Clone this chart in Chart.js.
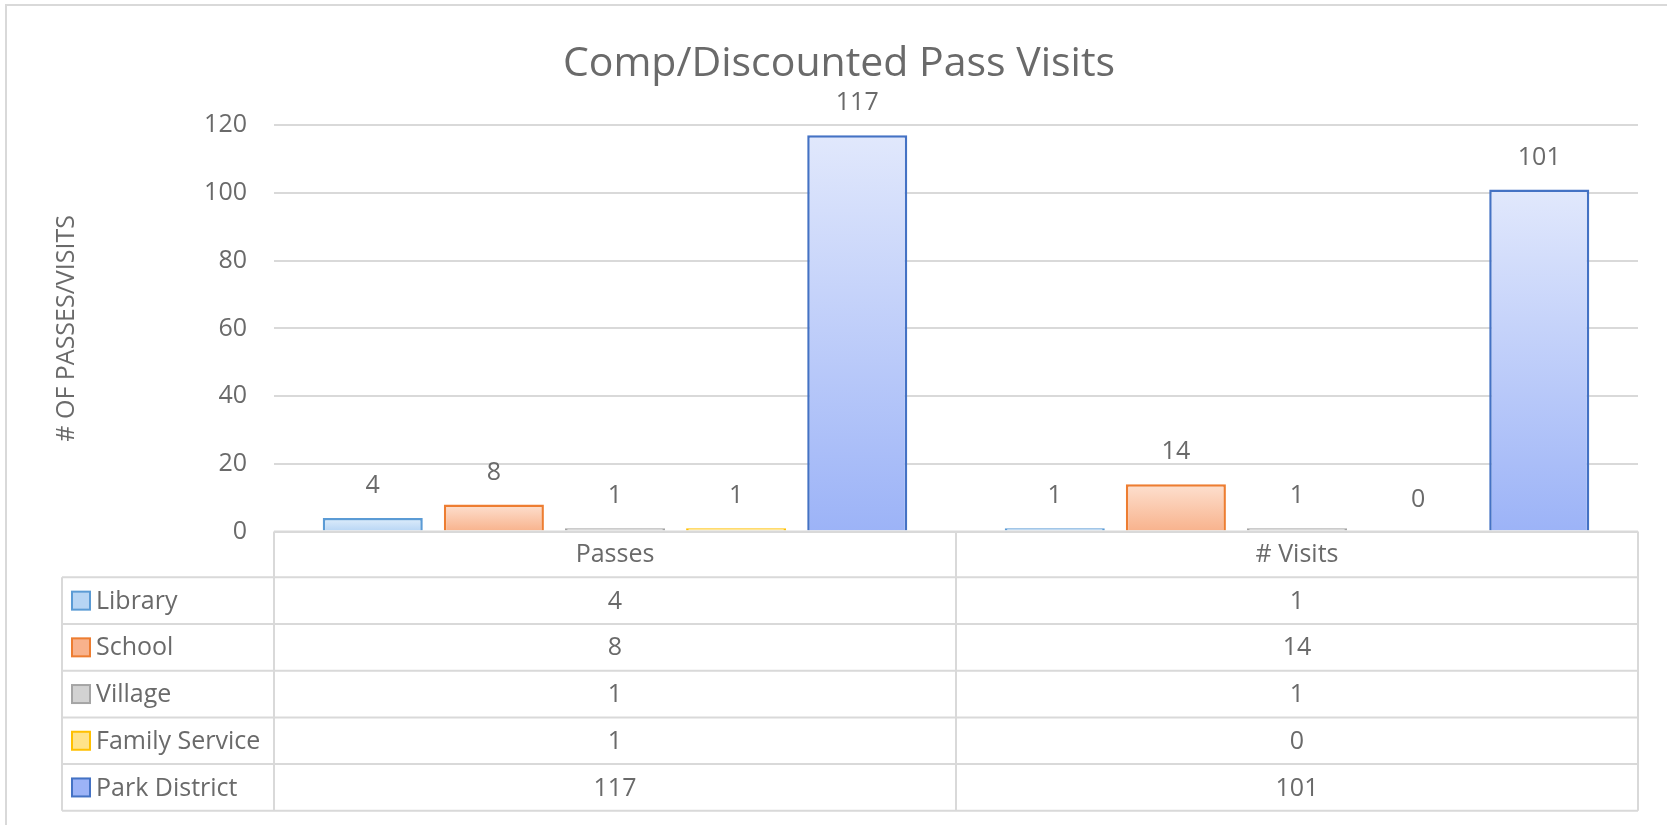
<!DOCTYPE html>
<html>
<head>
<meta charset="utf-8">
<title>Comp/Discounted Pass Visits</title>
<script src="https://cdn.jsdelivr.net/npm/chart.js@4.4.1/dist/chart.umd.min.js"></script>
<style>
    html, body { margin: 0; padding: 0; background: #ffffff; }
    #wrap { width: 1667px; height: 825px; }
</style>
</head>
<body>
<div id="wrap"><canvas id="graficoPasses" width="1667" height="825"></canvas></div>
<script>
// dados do grafico
var categories = ['Passes', '# Visits'];
var seriesNames = ['Library', 'School', 'Village', 'Family Service', 'Park District'];
var library = [4, 1];
var school = [8, 14];
var village = [1, 1];
var familyService = [1, 0];
var parkDistrict = [117, 101];
var yMax = 120;
var yStep = 20;

var TEXT = '#6a6a6a';
var LINE = '#d9d9d9';
var FONT = "'Open Sans', 'Noto Sans', sans-serif";

// estilo de cada serie: borda, topo e base do degrade
var estilos = [
    { border: '#5b9bd5', top: '#deedfb', bottom: '#b7d5f4' },
    { border: '#ed7d31', top: '#fde0cf', bottom: '#f8b28c' },
    { border: '#a5a5a5', top: '#e4e4e4', bottom: '#d2d2d2' },
    { border: '#ffc000', top: '#fff0b8', bottom: '#ffe38a' },
    { border: '#4472c4', top: '#e1e8fc', bottom: '#9cb3f7' }
];

function degrade(estilo) {
    return function (context) {
        var chart = context.chart;
        if (!chart.chartArea || context.type !== 'data') {
            return estilo.bottom;
        }
        var y = chart.scales.y;
        var yTopo = y.getPixelForValue(context.raw);
        var yBase = y.getPixelForValue(0);
        if (yBase - yTopo < 2) {
            return estilo.bottom;
        }
        var g = chart.ctx.createLinearGradient(0, yTopo, 0, yBase);
        g.addColorStop(0, estilo.top);
        g.addColorStop(1, estilo.bottom);
        return g;
    };
}

var valores = [library, school, village, familyService, parkDistrict];
var datasets = valores.map(function (dados, i) {
    return {
        label: seriesNames[i],
        data: dados,
        backgroundColor: degrade(estilos[i]),
        borderColor: estilos[i].border,
        borderWidth: 2.5,
        borderSkipped: 'bottom',
        categoryPercentage: 0.888,
        barPercentage: 0.826
    };
});

// rotulos de valor acima das barras
var rotulosPlugin = {
    id: 'rotulos',
    afterDatasetsDraw: function (chart) {
        var ctx = chart.ctx;
        ctx.save();
        ctx.font = '25px ' + FONT;
        ctx.fillStyle = TEXT;
        ctx.textAlign = 'center';
        ctx.textBaseline = 'middle';
        chart.data.datasets.forEach(function (ds, i) {
            chart.getDatasetMeta(i).data.forEach(function (bar, j) {
                ctx.fillText(String(ds.data[j]), bar.x, bar.y - 32);
            });
        });
        ctx.restore();
    }
};

// moldura e tabela de dados abaixo do grafico
var tabelaPlugin = {
    id: 'tabela',
    beforeDraw: function (chart) {
        var ctx = chart.ctx;
        ctx.save();
        ctx.fillStyle = '#ffffff';
        ctx.fillRect(0, 0, chart.width, chart.height);
        ctx.strokeStyle = LINE;
        ctx.lineWidth = 2;
        ctx.beginPath();
        ctx.moveTo(6, chart.height);
        ctx.lineTo(6, 5);
        ctx.lineTo(chart.width, 5);
        ctx.stroke();
        ctx.restore();
    },
    afterDraw: function (chart) {
        var ctx = chart.ctx;
        var area = chart.chartArea;
        var x = chart.scales.x;
        var esquerda = 62;
        var topoLinhas = 577.3;
        var alturaLinha = 46.7;
        var fundo = topoLinhas + alturaLinha * seriesNames.length;
        var divisao = (x.getPixelForTick(0) + x.getPixelForTick(1)) / 2;

        ctx.save();
        ctx.strokeStyle = LINE;
        ctx.lineWidth = 2;
        ctx.beginPath();
        ctx.moveTo(area.left, area.bottom);
        ctx.lineTo(area.right, area.bottom);
        for (var i = 0; i <= seriesNames.length; i++) {
            var yl = topoLinhas + alturaLinha * i;
            ctx.moveTo(esquerda, yl);
            ctx.lineTo(area.right, yl);
        }
        ctx.moveTo(esquerda, topoLinhas);
        ctx.lineTo(esquerda, fundo);
        [area.left, divisao, area.right].forEach(function (xv) {
            ctx.moveTo(xv, area.bottom);
            ctx.lineTo(xv, fundo);
        });
        ctx.stroke();

        ctx.font = '25px ' + FONT;
        ctx.textBaseline = 'middle';
        seriesNames.forEach(function (nome, i) {
            var yc = topoLinhas + alturaLinha * i + alturaLinha / 2;
            // chave da legenda
            ctx.fillStyle = estilos[i].bottom;
            ctx.fillRect(72, yc - 9, 18, 18);
            ctx.strokeStyle = estilos[i].border;
            ctx.strokeRect(72, yc - 9, 18, 18);
            ctx.fillStyle = TEXT;
            ctx.textAlign = 'left';
            ctx.fillText(nome, 96, yc + 1);
            ctx.textAlign = 'center';
            valores[i].forEach(function (v, j) {
                ctx.fillText(String(v), x.getPixelForTick(j), yc + 1);
            });
        });
        ctx.restore();
    }
};

var ctx = document.getElementById('graficoPasses').getContext('2d');
var grafico = new Chart(ctx, {
    type: 'bar',
    data: {
        labels: categories,
        datasets: datasets
    },
    options: {
        responsive: false,
        animation: false,
        layout: {
            padding: { top: 0, left: 40, right: 29, bottom: 0 }
        },
        plugins: {
            legend: { display: false },
            tooltip: { enabled: false },
            title: {
                display: true,
                text: 'Comp/Discounted Pass Visits',
                color: TEXT,
                font: { family: FONT, size: 41, weight: 'normal', lineHeight: 1.2 },
                padding: { top: 40, bottom: 36 }
            }
        },
        scales: {
            x: {
                grid: { display: false, drawTicks: false },
                border: { display: false },
                ticks: {
                    color: TEXT,
                    padding: 8,
                    font: { family: FONT, size: 25 }
                },
                afterFit: function (scale) {
                    scale.height = 293.4;
                }
            },
            y: {
                min: 0,
                max: yMax,
                grid: { color: LINE, lineWidth: 2, drawTicks: false },
                border: { display: false },
                ticks: {
                    stepSize: yStep,
                    color: TEXT,
                    padding: 27,
                    font: { family: FONT, size: 25 }
                },
                title: {
                    display: true,
                    text: '# OF PASSES/VISITS',
                    color: TEXT,
                    font: { family: FONT, size: 25, lineHeight: 1.2 },
                    padding: { top: 12, bottom: 0 }
                },
                afterFit: function (scale) {
                    scale.width = 234;
                }
            }
        }
    },
    plugins: [tabelaPlugin, rotulosPlugin]
});
</script>
</body>
</html>
